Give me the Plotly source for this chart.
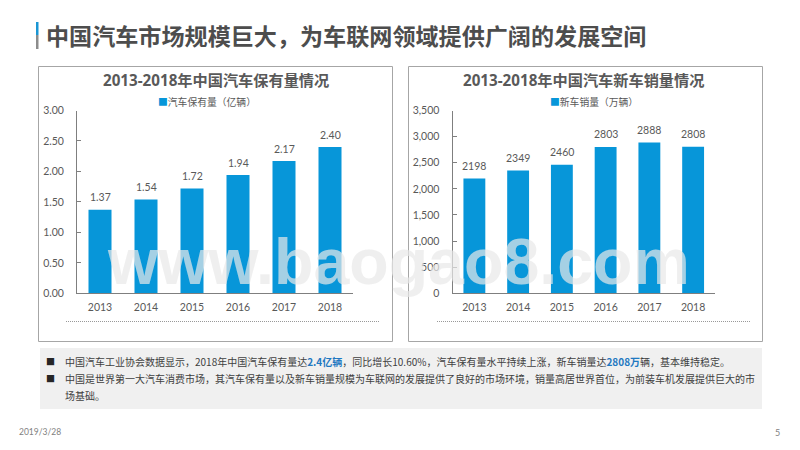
import plotly.graph_objects as go

years = ['2013', '2014', '2015', '2016', '2017', '2018']
stock_values = [1.37, 1.54, 1.72, 1.94, 2.17, 2.40]
sales_values = [2198, 2349, 2460, 2803, 2888, 2808]
stock_ticks = [0, 0.5, 1, 1.5, 2, 2.5, 3]
sales_ticks = [0, 500, 1000, 1500, 2000, 2500, 3000, 3500]

BLUE = '#0796d9'
GREY = '#595959'
FONT = 'Lato, Noto Sans CJK SC, sans-serif'
CJK = 'Noto Sans CJK SC, sans-serif'

# the page keeps its 8px body margin, so the figure is drawn inside it
PAGE = 8
W, H = 800 - PAGE, 450 - PAGE


def px(x):
    return (x - PAGE) / W


def py(y):
    return 1 - (y - PAGE) / H


fig = go.Figure()
fig.add_trace(go.Bar(x=years, y=stock_values, name='汽车保有量（亿辆）', xaxis='x', yaxis='y',
                     marker=dict(color=BLUE, line=dict(width=0))))
fig.add_trace(go.Bar(x=years, y=sales_values, name='新车销量（万辆）', xaxis='x2', yaxis='y2',
                     marker=dict(color=BLUE, line=dict(width=0))))


def rect(x0, y0, x1, y1, **kw):
    return dict(type='rect', xref='paper', yref='paper', x0=px(x0), x1=px(x1), y0=py(y0), y1=py(y1), **kw)


def note(x, y, text, size=10, color=GREY, anchor='left', family=CJK):
    return dict(xref='paper', yref='paper', x=px(x), y=py(y), text=text, showarrow=False,
                xanchor=anchor, yanchor='middle', align=anchor,
                font=dict(size=size, color=color, family=family))


def value_label(x, y, text, xref, yref):
    return dict(x=x, y=y, xref=xref, yref=yref, text=text, showarrow=False, yshift=12.5,
                xanchor='center', yanchor='middle', font=dict(size=10.5, color=GREY, family=FONT))


def hl(s):
    return "<b><span style='color:#1f78c1'>%s</span></b>" % s


shapes = [
    rect(36, 22, 38.5, 35, fillcolor='#1a96d4', line_width=0, layer='below'),
    rect(36, 35, 38.5, 49, fillcolor='#8c8c8c', line_width=0, layer='below'),
    rect(38.5, 66.5, 392.5, 341.5, line=dict(color='#a6a6a6', width=1), layer='below'),
    rect(408.5, 66.5, 762.5, 341.5, line=dict(color='#a6a6a6', width=1), layer='below'),
    rect(40, 348, 762, 409, fillcolor='#f0f0f0', line_width=0, layer='below'),
    dict(type='line', xref='paper', yref='paper', x0=px(66), x1=px(380), y0=py(321.5), y1=py(321.5),
         line=dict(color='#999999', width=1, dash='1px,1px')),
    dict(type='line', xref='paper', yref='paper', x0=px(437), x1=px(751), y0=py(321.5), y1=py(321.5),
         line=dict(color='#999999', width=1, dash='1px,1px')),
]

annotations = [
    note(43.5, 35, '<b>中国汽车市场规模巨大，为车联网领域提供广阔的发展空间</b>', size=23.1, color='#4d4d4d'),
    note(216, 80, '<b>2013-2018年中国汽车保有量情况</b>', size=15.2, anchor='center',
         family='Open Sans, Noto Sans CJK SC, sans-serif'),
    note(583.5, 80, '<b>2013-2018年中国汽车新车销量情况</b>', size=15.2, anchor='center',
         family='Open Sans, Noto Sans CJK SC, sans-serif'),
    note(207, 102, "<span style='color:%s'>■</span>汽车保有量（亿辆）" % BLUE, size=9.8, anchor='center'),
    note(594, 102, "<span style='color:%s'>■</span>新车销量（万辆）" % BLUE, size=9.8, anchor='center'),
    note(44, 361, '■', size=9, color='#262626'),
    note(44, 378, '■', size=9, color='#262626'),
    note(63, 361, '中国汽车工业协会数据显示，2018年中国汽车保有量达' + hl('2.4亿辆')
         + '，同比增长10.60%，汽车保有量水平持续上涨，新车销量达' + hl('2808万') + '辆，基本维持稳定。',
         size=10, color='#404040'),
    note(63, 378, '中国是世界第一大汽车消费市场，其汽车保有量以及新车销量规模为车联网的发展提供了良好的市场环境，'
         '销量高居世界首位，为前装车机发展提供巨大的市', size=10, color='#404040'),
    note(63, 395, '场基础。', size=10, color='#404040'),
    note(17, 432, '2019/3/28', size=8.5, color='#7f7f7f', family=FONT),
    note(773, 432, '5', size=9, color='#7f7f7f', family=FONT),
]
for i, value in enumerate(stock_values):
    annotations.append(value_label(i, value, '%.2f' % value, 'x', 'y'))
for i, value in enumerate(sales_values):
    annotations.append(value_label(i, value, str(value), 'x2', 'y2'))
annotations.append(note(398, 262, '<b>www.baogao8.com</b>', size=64.5, color='rgba(232,232,232,0.7)', anchor='center',
                        family='Liberation Sans, sans-serif'))

axis_line = dict(showline=True, linecolor='#7f7f7f', linewidth=1, showgrid=False, zeroline=False)
tick_font = dict(size=10.5, color=GREY, family=FONT)

fig.update_layout(
    width=W, height=H, margin=dict(l=0, r=0, t=0, b=0, autoexpand=False),
    paper_bgcolor='white', plot_bgcolor='white', showlegend=False, bargap=0.5,
    shapes=shapes, annotations=annotations,
    xaxis=dict(domain=[px(77), px(353)], anchor='y', type='category', categoryorder='array', categoryarray=years,
               range=[-0.5, 5.5], ticks='', ticklabelstandoff=4, tickfont=tick_font, **axis_line),
    yaxis=dict(domain=[py(293.3), py(110.5)], anchor='x', range=[0, 3], tickmode='array',
               tickvals=stock_ticks, ticktext=['%.2f' % t for t in stock_ticks], ticks='inside', ticklen=4,
               ticklabelstandoff=10, tickcolor='#7f7f7f', tickfont=tick_font, **axis_line),
    xaxis2=dict(domain=[px(452.5), px(715)], anchor='y2', type='category', categoryorder='array', categoryarray=years,
                range=[-0.5, 5.5], ticks='', ticklabelstandoff=4, tickfont=tick_font, **axis_line),
    yaxis2=dict(domain=[py(293.3), py(110.5)], anchor='x2', range=[0, 3500], tickmode='array',
                tickvals=sales_ticks, ticktext=['{:,}'.format(t) for t in sales_ticks], ticks='inside', ticklen=4,
                ticklabelstandoff=10, tickcolor='#7f7f7f', tickfont=tick_font, **axis_line),
)

fig.write_html('out.html')
